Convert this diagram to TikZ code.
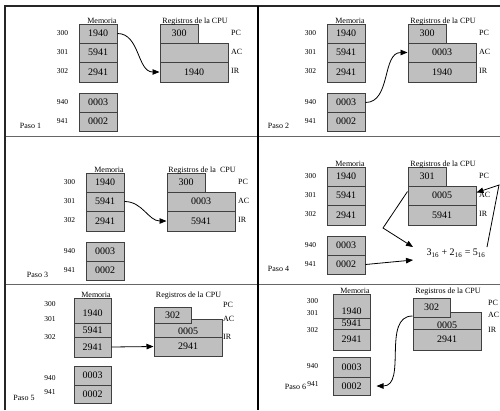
\documentclass[tikz,border=0pt]{standalone}
\usepackage{fontspec}
\setmainfont{Liberation Serif}
\usetikzlibrary{arrows.meta}
\newcommand\cellnode[6]{%
  \node[cell, minimum width={(#4-#2)*1pt}, minimum height={(#5-#3)*1pt}] (#1) at ({(#2+#4)/2},{(#3+#5)/2}) {#6};}
% cell whose text sits lower: #7 = text height (pt)
\newcommand\cellnodelow[7]{%
  \node[cell, text height=#7pt, text depth=0pt, minimum width={(#4-#2)*1pt}, minimum height={(#5-#3)*1pt}] (#1) at ({(#2+#4)/2},{(#3+#5)/2}) {#6};}
\newcommand\stdpanel[6]{%
  \cellnode{#1-m300}{79}{24}{117}{43}{1940}
  \cellnode{#1-m301}{79}{43}{117}{62}{5941}
  \cellnode{#1-m302}{79}{62}{117}{82}{2941}
  \cellnode{#1-m940}{79}{93}{117}{112}{0003}
  \cellnode{#1-m941}{79}{112}{117}{131}{0002}
  \cellnode{#1-ac}{160}{43}{228}{62}{#3}
  \cellnode{#1-ir}{160}{62}{228}{82}{#4}
  \cellnode{#1-pc}{160}{24}{198}{43}{#2}
  \node[addr] (#1-a300) at (62.5,33) {300};
  \node[addr] (#1-a301) at (62.5,52) {301};
  \node[addr] (#1-a302) at (62.5,71) {302};
  \node[addr] (#1-a940) at (62.5,102) {940};
  \node[addr] (#1-a941) at (62.5,121.5) {941};
  \node[hdr] (#1-hm) at (102,23.5) {Memoria};
  \node[hdr] (#1-hr) at (195,23.5) {#6};
  \node[reglab] (#1-lpc) at (231,33) {PC};
  \node[reglab] (#1-lac) at (231,52) {AC};
  \node[reglab] (#1-lir) at (231,71) {IR};
  \node[paso] (#1-paso) at (30.5,126) {Paso #5};
}
\tikzset{
  cell/.style={draw=black!75, line width=1pt, fill=black!25, inner sep=0pt, font=\fontsize{10}{10}\selectfont},
  addr/.style={font=\fontsize{7.5}{8}\selectfont, inner sep=0pt},
  hdr/.style={font=\fontsize{8}{9}\selectfont, inner sep=0pt, anchor=base},
  reglab/.style={font=\fontsize{8}{9}\selectfont, inner sep=0pt, anchor=west},
  paso/.style={font=\fontsize{8}{9}\selectfont, inner sep=0pt},
  formula/.style={font=\fontsize{10}{10}\selectfont, inner sep=0pt, anchor=base},
  arr/.style={-{Triangle[length=7pt,width=5.5pt]}, line width=0.8pt, black},
  frame/.style={line width=1.2pt, black!85},
  divline/.style={line width=0.9pt, black!60},
  midline/.style={line width=2pt, black},
}
\begin{document}
\begin{tikzpicture}[x=1pt,y=-1pt]
\useasboundingbox (0,0) rectangle (500,410);
\fill[white] (0,0) rectangle (500,410);
% frame
\draw[divline] (5,136) -- (500,136);
\draw[divline] (5,284) -- (500,284);
\draw[frame] (5,410) -- (5,6) -- (500,6);
\draw[midline] (258,6) -- (258,410);

% Paso 1
\begin{scope}
\stdpanel{p1}{300}{}{1940}{1}{Registros de la CPU}
\end{scope}
\draw[arr] (p1-m300.east) to[out=0,in=180] (p1-ir.west);

% Paso 2
\begin{scope}[shift={(248,0)}]
\stdpanel{p2}{300}{0003}{1940}{2}{Registros de la CPU}
\end{scope}
\draw[arr] (p2-m940.east) to[out=0,in=180] (p2-ac.west);

% Paso 3
\begin{scope}[shift={(7,149)}]
\stdpanel{p3}{300}{0003}{5941}{3}{Registros de la~ CPU}
\end{scope}
\draw[arr] (p3-m301.east) to[out=0,in=180] (p3-ir.west);

% Paso 4
\begin{scope}[shift={(248,143)}]
\stdpanel{p4}{301}{0005}{5941}{4}{Registros de la CPU}
\end{scope}
\node[formula] (p4-f) at (456,255.5) {3\textsubscript{16} + 2\textsubscript{16} = 5\textsubscript{16}};
\coordinate (p4-v1) at (383,228);
\coordinate (p4-t1) at (413,247);
\coordinate (p4-t2) at (413,260);
\coordinate (p4-s3) at (487,247);
\coordinate (p4-v3) at (499,185);
\draw[arr] ([yshift=4pt]p4-ac.west) -- (p4-v1) -- (p4-t1);
\draw[arr] (p4-m941.east) -- (p4-t2);
\draw[arr] (p4-s3) -- (p4-v3) -- ([yshift=3pt]p4-ac.east);

% Paso 5
\cellnodelow{p5-m300}{74}{298}{111}{323}{1940}{11.6}
\cellnode{p5-m301}{74}{323}{111}{337}{5941}
\cellnode{p5-m302}{74}{337}{111}{357}{2941}
\cellnode{p5-m940}{74}{366}{111}{385}{0003}
\cellnode{p5-m941}{74}{385}{111}{403}{0002}
\cellnodelow{p5-ac}{154}{319}{222}{337}{0005}{13.6}
\cellnode{p5-ir}{154}{337}{222}{356}{2941}
\cellnode{p5-pc}{154}{307}{191}{323}{302}
\node[addr] (p5-a300) at (50,304) {300};
\node[addr] (p5-a301) at (50,319) {301};
\node[addr] (p5-a302) at (50,337) {302};
\node[addr] (p5-a940) at (50,378) {940};
\node[addr] (p5-a941) at (50,392) {941};
\node[hdr] (p5-hm) at (96,297.5) {Memoria};
\node[hdr] (p5-hr) at (188.5,297.5) {Registros de la CPU};
\node[reglab] (p5-lpc) at (223,305) {PC};
\node[reglab] (p5-lac) at (223,319) {AC};
\node[reglab] (p5-lir) at (223,337) {IR};
\node[paso] (p5-paso) at (24,398) {Paso 5};
\draw[arr] (p5-m302.east) -- (p5-ir.west);

% Paso 6
\cellnodelow{p6-m300}{333}{294}{370}{318}{1940}{16.6}
\cellnode{p6-m301}{333}{318}{370}{329}{5941}
\cellnode{p6-m302}{333}{329}{370}{350}{2941}
\cellnode{p6-m940}{333}{357}{370}{377}{0003}
\cellnode{p6-m941}{333}{377}{370}{395}{0002}
\cellnodelow{p6-ac}{413}{312}{481}{329}{0005}{16.6}
\cellnode{p6-ir}{413}{329}{481}{350}{2941}
\cellnode{p6-pc}{413}{298}{450}{317}{302}
\node[addr] (p6-a300) at (312.5,301) {300};
\node[addr] (p6-a301) at (312.5,313) {301};
\node[addr] (p6-a302) at (312.5,330) {302};
\node[addr] (p6-a940) at (312.5,366) {940};
\node[addr] (p6-a941) at (313,384) {941};
\node[hdr] (p6-hm) at (355,293.5) {Memoria};
\node[hdr] (p6-hr) at (448,293.5) {Registros de la CPU};
\node[reglab] (p6-lpc) at (488,303) {PC};
\node[reglab] (p6-lac) at (488,315) {AC};
\node[reglab] (p6-lir) at (488,330) {IR};
\node[paso] (p6-paso) at (295.5,387) {Paso 6};
\draw[arr] ([yshift=4.5pt]p6-ac.west) to[out=180,in=0] ([xshift=6pt]p6-m941.east);
\end{tikzpicture}
\end{document}
